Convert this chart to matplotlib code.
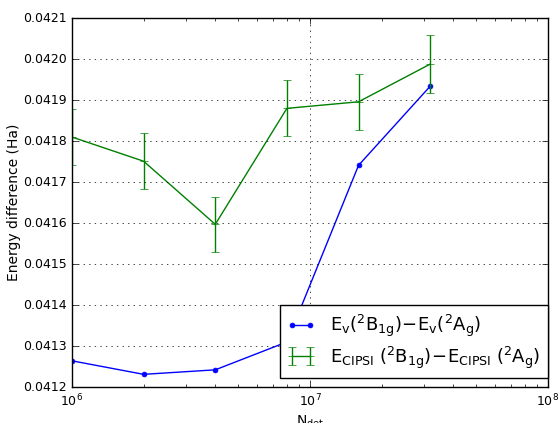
import matplotlib
matplotlib.use('Agg')
from matplotlib import pyplot as plt
from matplotlib.ticker import MultipleLocator

# number of determinants
ndet = [1e6, 2e6, 4e6, 8e6, 1.6e7, 3.2e7]

# E_v(2B1g) - E_v(2Ag)
e_v = [0.041264, 0.041231, 0.041242, 0.041310, 0.041741, 0.041934]

# E_CIPSI(2B1g) - E_CIPSI(2Ag) with error bars
e_cipsi = [0.041810, 0.041751, 0.041597, 0.041880, 0.041896, 0.041988]
e_cipsi_err = [0.000068, 0.000068, 0.000067, 0.000068, 0.000069, 0.000071]


def main():
    plt.style.use('classic')
    plt.rcParams['mathtext.default'] = 'regular'
    plt.rcParams['font.family'] = ['DejaVu Sans']

    fig = plt.figure(figsize=(5.58, 4.23), dpi=100, facecolor='white')
    ax = fig.add_axes([0.129, 0.085, 0.853, 0.872])

    ax.plot(ndet, e_v, 'b.-', ms=7, label=r'$E_v(^2B_{1g})\!-\!E_v(^2A_g)$')
    ax.errorbar(ndet, e_cipsi, yerr=e_cipsi_err, color='g', marker='+', ms=6,
                capsize=3, label=r'$E_{CIPSI}\ (^2B_{1g})\!-\!E_{CIPSI}\ (^2A_g)$')

    ax.set_xscale('log')
    ax.set_xlim(1e6, 1e8)
    ax.set_ylim(0.0412, 0.0421)
    ax.yaxis.set_major_locator(MultipleLocator(0.0001))
    ax.ticklabel_format(axis='y', useOffset=False)
    ax.grid(True)
    ax.tick_params(labelsize=9)

    ax.set_xlabel(r'$N_{det}$', fontsize=10, labelpad=3)
    ax.set_ylabel('Energy difference (Ha)', fontsize=10, labelpad=1)

    ax.legend(loc='lower right', bbox_to_anchor=(1.0, 0.025), numpoints=2,
              fontsize=13, borderaxespad=0, handlelength=1.6, labelspacing=0.3)

    fig.savefig('out.png', dpi=100, facecolor='white')


if __name__ == '__main__':
    main()
